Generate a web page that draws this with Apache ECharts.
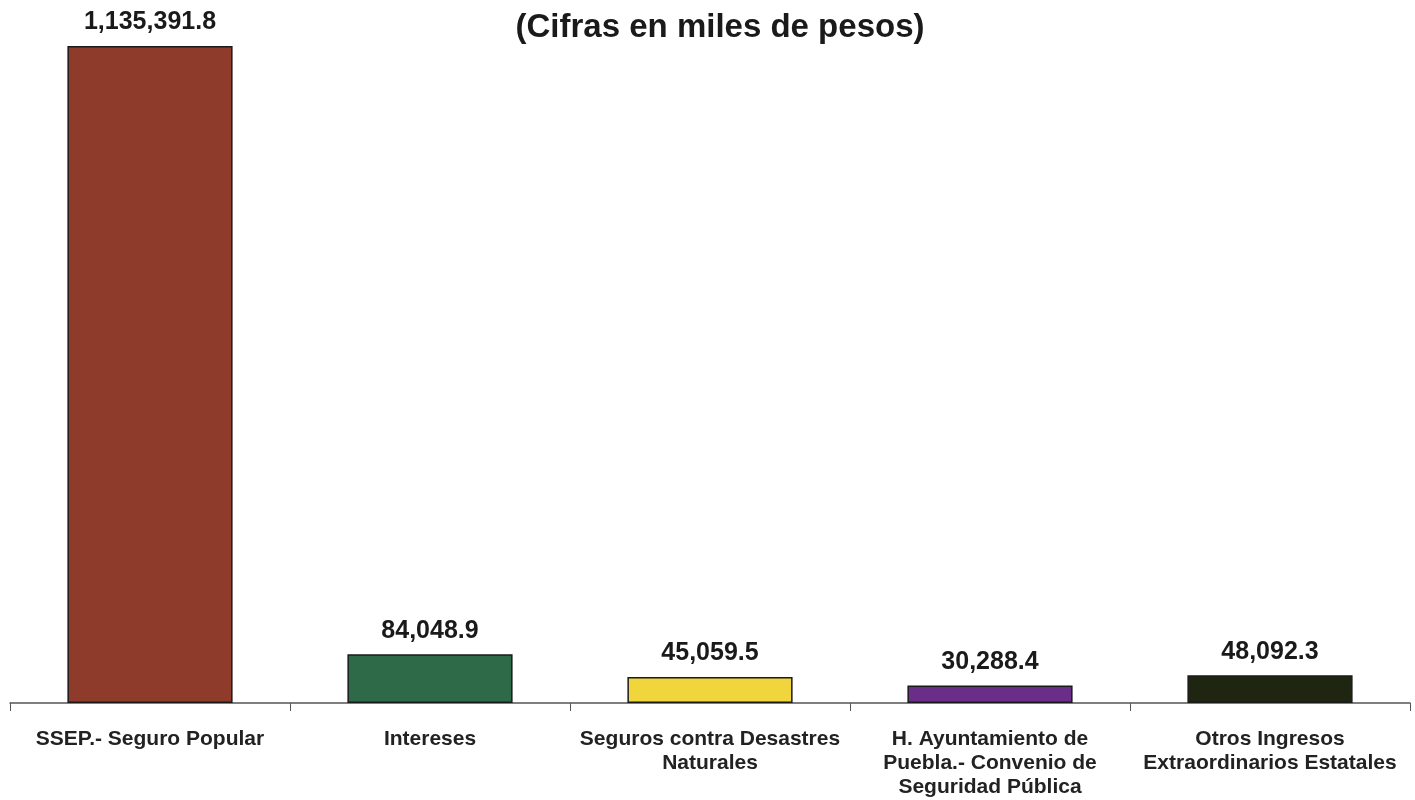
<!DOCTYPE html>
<html>
<head>
<meta charset="utf-8">
<script src="https://cdn.jsdelivr.net/npm/echarts@6/dist/echarts.min.js"></script>
<style>
  html, body { margin: 0; padding: 0; background: #fff; }
  #main { width: 1415px; height: 800px; }
</style>
</head>
<body>
<div id="main"></div>
<script>
// categorias y montos (miles de pesos)
const categories = [
  "SSEP.- Seguro Popular",
  "Intereses",
  "Seguros contra Desastres\nNaturales",
  "H. Ayuntamiento de\nPuebla.- Convenio de\nSeguridad Pública",
  "Otros Ingresos\nExtraordinarios Estatales"
];
const values = [1135391.8, 84048.9, 45059.5, 30288.4, 48092.3];
const barColors = ["#8e3b2b", "#2f6a48", "#f0d53c", "#6b2e88", "#1e2510"];

function fmt(v) {
  return v.toLocaleString("en-US", { minimumFractionDigits: 1, maximumFractionDigits: 1 });
}

const chart = echarts.init(document.getElementById("main"));
chart.setOption({
  backgroundColor: "#ffffff",
  animation: false,
  title: {
    text: "(Cifras en miles de pesos)",
    left: 715,
    top: 6,
    textAlign: "center",
    textStyle: { fontFamily: "Liberation Sans", fontSize: 33, fontWeight: "bold", color: "#1a1a1a" }
  },
  grid: { left: 10, right: 5, top: 46, bottom: 97 },
  xAxis: {
    type: "category",
    data: categories,
    axisLine: { lineStyle: { color: "#555", width: 1.5 } },
    axisTick: { show: true, length: 8, lineStyle: { color: "#555" } },
    axisLabel: {
      interval: 0,
      margin: 24,
      fontFamily: "Liberation Sans",
      fontSize: 21,
      fontWeight: "bold",
      color: "#222",
      lineHeight: 24
    }
  },
  yAxis: {
    type: "value",
    min: 0,
    max: values[0],
    show: false,
    splitLine: { show: false }
  },
  series: [{
    type: "bar",
    barWidth: "59%",
    data: values.map((v, i) => ({
      value: v,
      itemStyle: { color: barColors[i], borderColor: "#1a1a1a", borderWidth: 1.5 }
    })),
    label: {
      show: true,
      position: "top",
      distance: 11,
      formatter: p => fmt(p.value),
      fontFamily: "Liberation Sans",
      fontSize: 25,
      fontWeight: "bold",
      color: "#1a1a1a"
    }
  }]
});
</script>
</body>
</html>
